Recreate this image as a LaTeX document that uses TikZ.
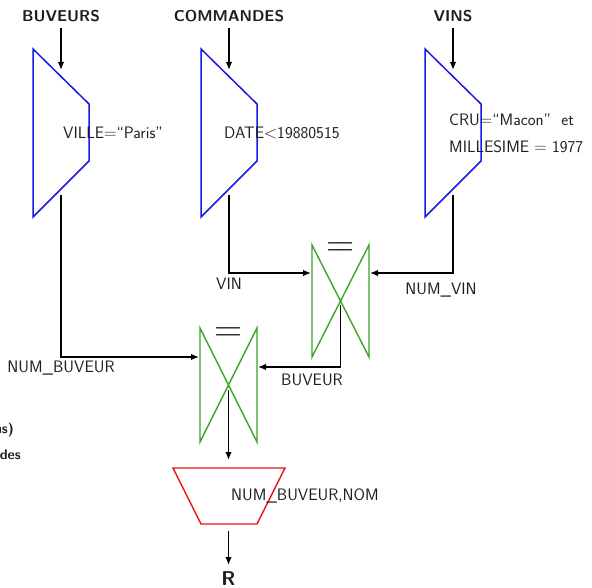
\documentclass[tikz,border=0pt]{standalone}
\usetikzlibrary{arrows.meta}
\definecolor{selblue}{RGB}{25,25,230}
\definecolor{joingreen}{RGB}{60,165,40}
\definecolor{projred}{RGB}{235,20,20}
\definecolor{ink}{RGB}{30,30,30}
\begin{document}
\begin{tikzpicture}[x=1pt,y=-1pt,
 txt/.style={font=\sffamily\fontsize{16.6}{19}\selectfont, inner sep=0pt, text=ink},
 head/.style={font=\sffamily\bfseries\fontsize{15.7}{18}\selectfont, inner sep=0pt, text=ink},
 headsmall/.style={font=\sffamily\bfseries\fontsize{14}{16}\selectfont, inner sep=0pt, text=ink},
 sel/.style={draw=selblue, line width=1.5pt},
 joinbox/.style={draw=joingreen, line width=1.4pt},
 proj/.style={draw=projred, line width=1.4pt},
 flow/.style={draw=black, line width=1.5pt, -{Latex[length=8pt,width=6.5pt]}},
 eqsign/.style={font=\rmfamily\fontsize{39}{39}\selectfont, inner sep=0pt, text=ink, anchor=base}]
\useasboundingbox (0,0) rectangle (592,588);

% relation names
\node[head] (buv) at (61,16) {BUVEURS};
\node[head] (com) at (229,16) {COMMANDES};
\node[head] (vins) at (453,16) {VINS};

% selections
\draw[sel] (33,49) -- (89,104) -- (89,161) -- (33,217) -- cycle;
\draw[sel] (201,49) -- (257,104) -- (257,161) -- (201,217) -- cycle;
\draw[sel] (425,49) -- (481,104) -- (481,161) -- (425,217) -- cycle;

\node[txt, anchor=west] (c1) at (63,133) {VILLE$=$``Paris''};
\node[txt, anchor=west] (c2) at (224,133) {DATE$<$19880515};
\node[txt, anchor=west] (c3a) at (449,120) {CRU$=$``Macon''\ \ et};
\node[txt, anchor=west] (c3b) at (449,147) {MILLESIME $=$ 1977};

\coordinate (s1in) at (61,70);
\coordinate (s2in) at (229,70);
\coordinate (s3in) at (453,70);
\coordinate (s1out) at (61,195);
\coordinate (s2out) at (229,195);
\coordinate (s3out) at (453,195);

\draw[flow, shorten <=6pt] (buv.south) -- (s1in);
\draw[flow, shorten <=6pt] (com.south) -- (s2in);
\draw[flow, shorten <=6pt] (vins.south) -- (s3in);

% joins
\draw[joinbox] (312,245) -- (312,357) -- (369,245) -- (369,357) -- cycle;
\node[eqsign] (eq2) at (340.5,257) {=};
\draw[joinbox] (200,328) -- (200,442) -- (257,328) -- (257,442) -- cycle;
\node[eqsign] (eq1) at (228.5,341.3) {=};

\coordinate (j2l) at (311,273);
\coordinate (j2r) at (370,273);
\coordinate (j2out) at (340.5,305);
\coordinate (j1l) at (199,357);
\coordinate (j1r) at (258,367);
\coordinate (j1out) at (228.5,390);

\draw[flow] (s2out) |- (j2l);
\draw[flow] (s3out) |- (j2r);
\draw[flow] (s1out) |- (j1l);
\draw[flow] (j2out) |- (j1r);

\node[txt] (lvin) at (229,284) {VIN};
\node[txt] (lnumvin) at (441,290) {NUM\_VIN};
\node[txt] (lnumbuv) at (61,368) {NUM\_BUVEUR};
\node[txt] (lbuv) at (312,380) {BUVEUR};

% projection
\coordinate (pin) at (228.5,460);
\draw[flow] (j1out) -- (pin);
\draw[proj] (173,468) -- (285,468) -- (257,524) -- (201,524) -- cycle;
\node[txt, anchor=west] (pattr) at (231,496) {NUM\_BUVEUR,NOM};
\coordinate (pout) at (228.5,531);
\node[font=\sffamily\bfseries\fontsize{20}{24}\selectfont, inner sep=0pt, text=ink] (res) at (228.5,579) {R};
\draw[flow] (pout) -- (228.5,565);

% legend texts cut off at the left edge
\node[headsmall, anchor=east] (leg1) at (14,430) {ns)};
\node[headsmall, anchor=east] (leg2) at (21,455) {des};
\end{tikzpicture}
\end{document}
